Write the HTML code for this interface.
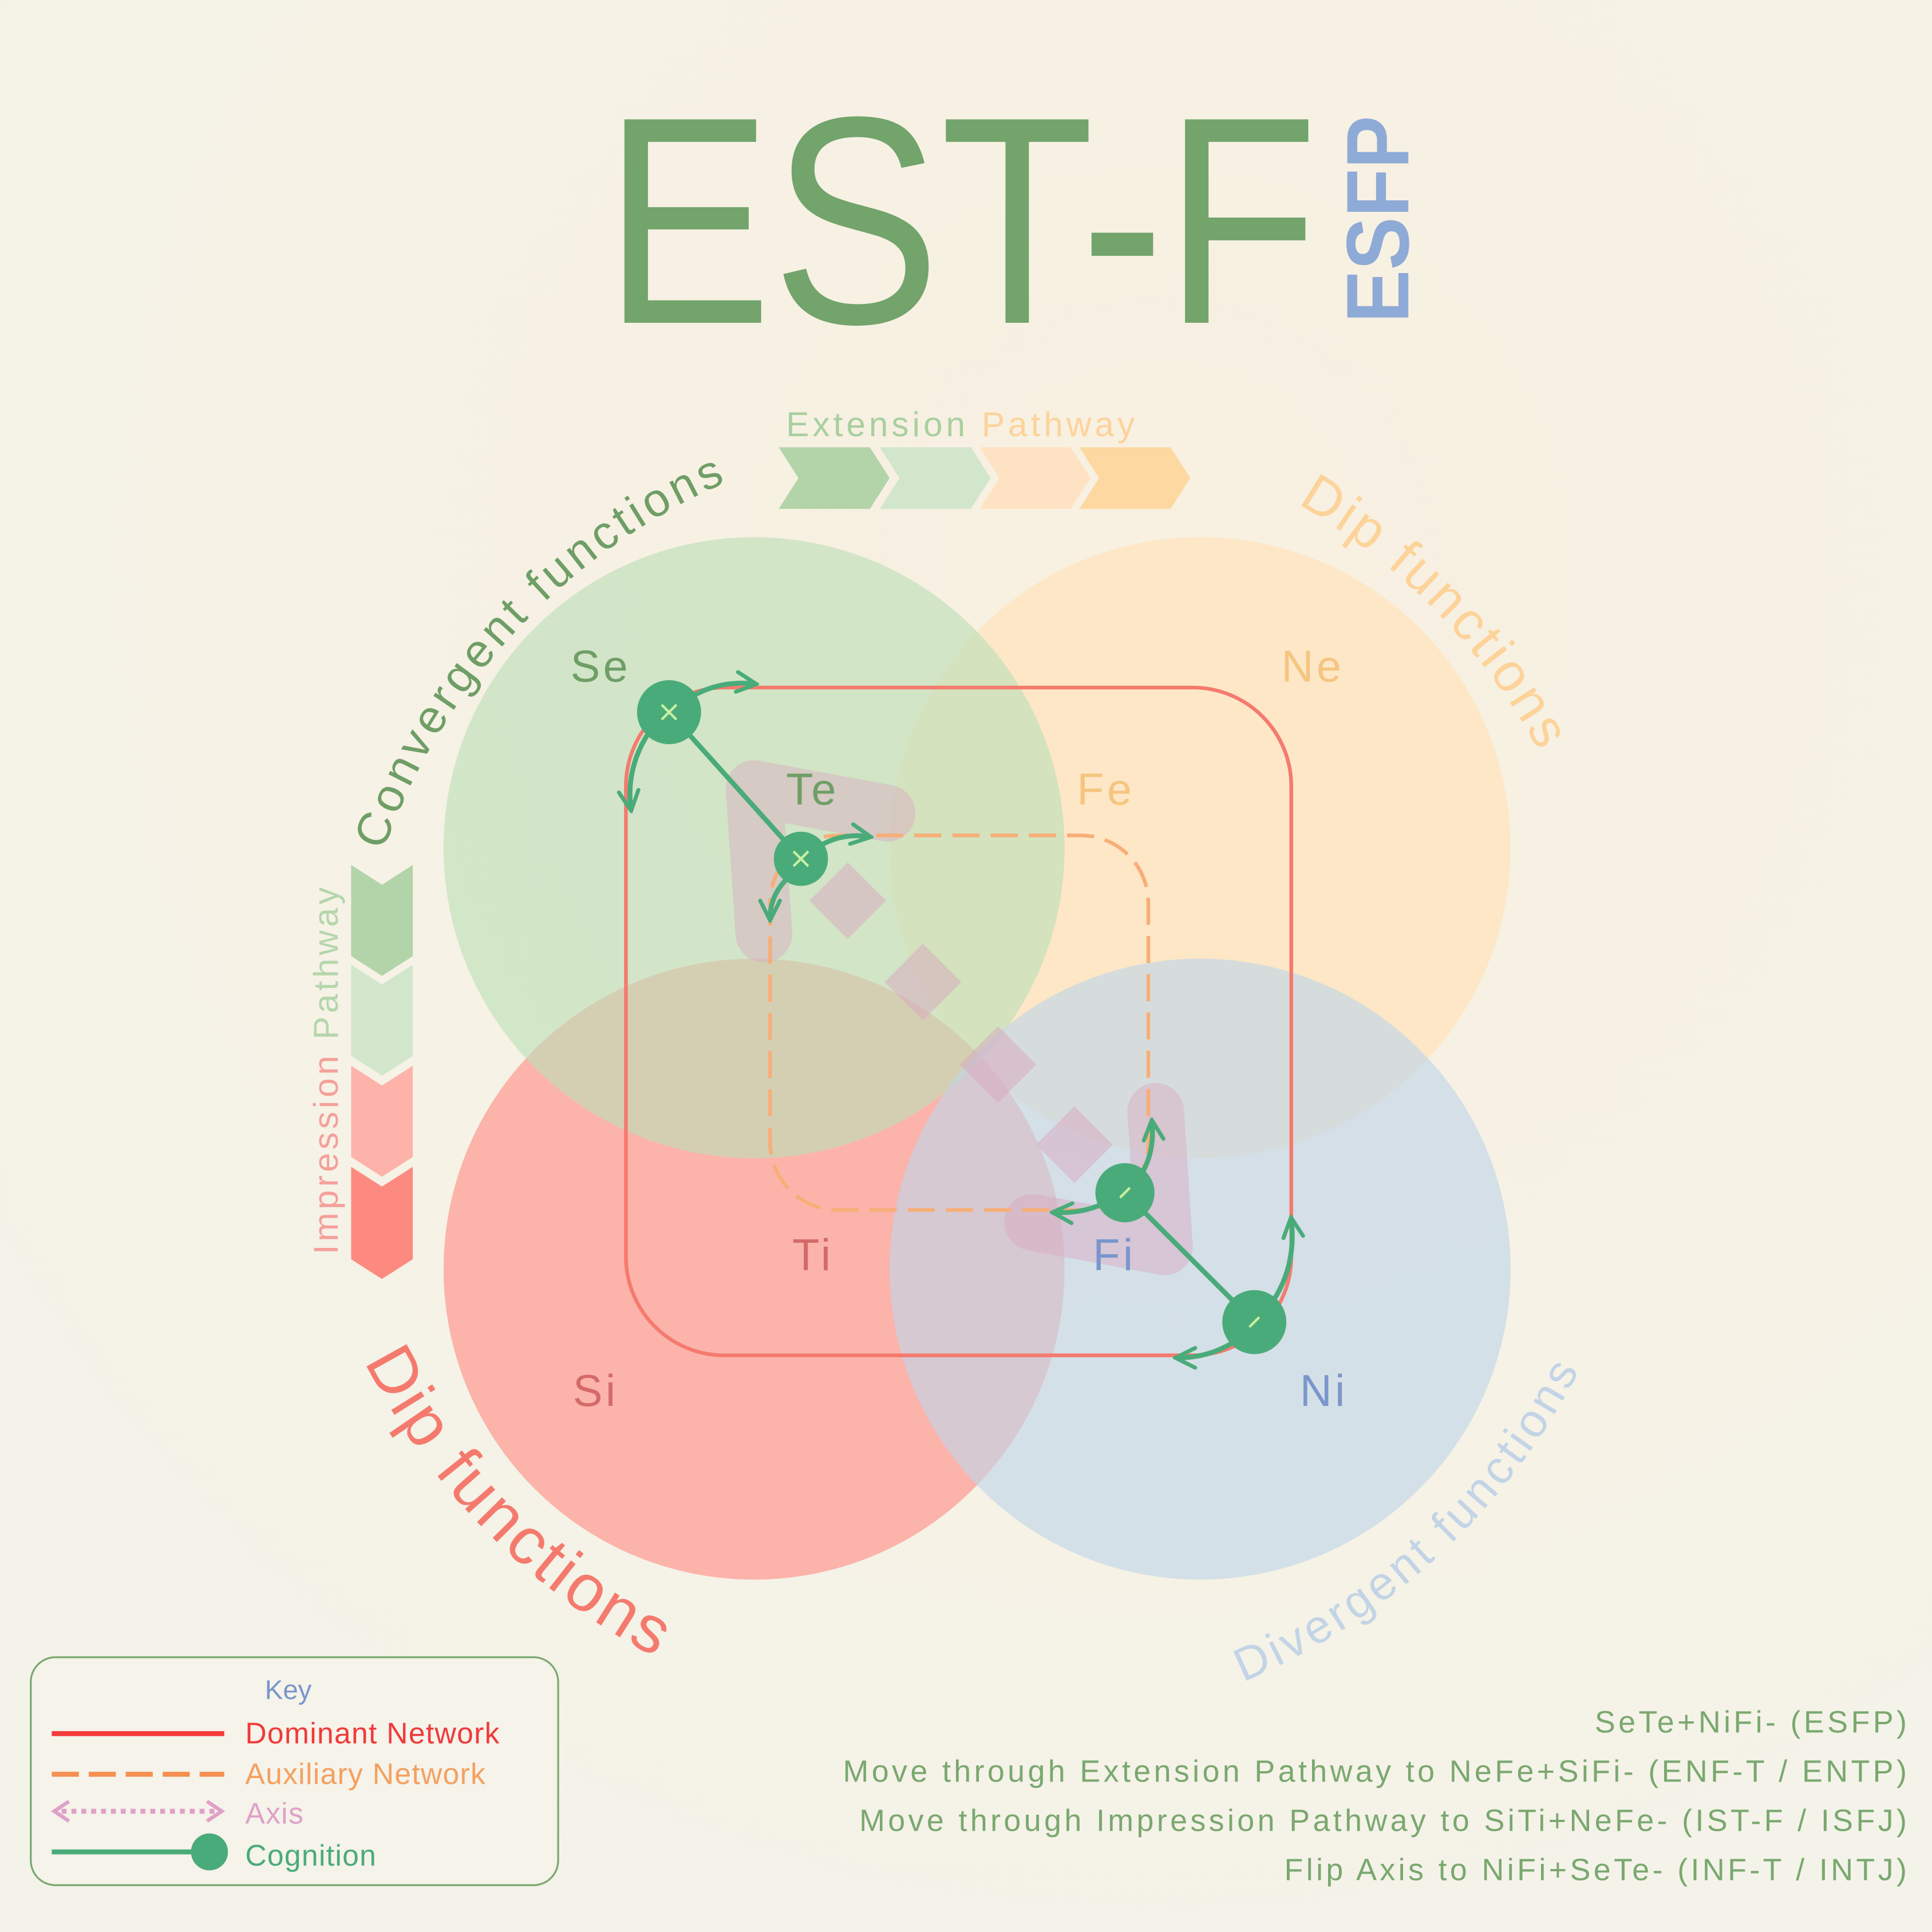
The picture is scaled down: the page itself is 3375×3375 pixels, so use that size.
<!DOCTYPE html>
<html><head><meta charset="utf-8"><style>html,body{margin:0;padding:0;background:#f5f3ea}svg{display:block}</style></head>
<body>
<svg xmlns="http://www.w3.org/2000/svg" width="3375" height="3375" viewBox="0 0 1568 1568" font-family="'Liberation Sans', sans-serif">
<defs>
<marker id="ah" viewBox="0 0 10 10" refX="8" refY="5" markerWidth="5" markerHeight="5" orient="auto" markerUnits="strokeWidth"><path d="M1,1 L9,5 L1,9" fill="none" stroke="#4aab7a" stroke-width="1.6" stroke-linecap="round"/></marker>
<radialGradient id="bg" cx="0.6" cy="0.3" r="0.8"><stop offset="0" stop-color="#f8f0e0"/><stop offset="1" stop-color="#f4f3ea"/></radialGradient>
</defs>
<rect width="1568" height="1568" fill="url(#bg)"/>
<text x="490" y="262" font-size="240" fill="#72a46c" textLength="580" lengthAdjust="spacingAndGlyphs">EST-F</text>
<text transform="translate(1143,262) rotate(-90)" font-size="72" font-weight="bold" fill="#8eaad6" textLength="168" lengthAdjust="spacingAndGlyphs">ESFP</text>
<text x="638" y="354" font-size="28" letter-spacing="2.8"><tspan fill="#a9cf9f">Extension </tspan><tspan fill="#fdd39a">Pathway</tspan></text>
<g>
<polygon points="632,363 706,363 722,388 706,413 632,413 648,388" fill="#b3d4a8"/>
<polygon points="714,363 788,363 804,388 788,413 714,413 730,388" fill="#d2e6cc"/>
<polygon points="795,363 869,363 885,388 869,413 795,413 811,388" fill="#fde3c3"/>
<polygon points="876,363 950,363 966,388 950,413 876,413 892,388" fill="#fdd8a0"/>
</g>
<text transform="translate(274,1018) rotate(-90)" font-size="28" letter-spacing="2.7"><tspan fill="#f5a09a">Impression </tspan><tspan fill="#b5d6ab">Pathway</tspan></text>
<polygon points="285,702 310,718 335,702 335,776 310,792 285,776" fill="#b3d4a8"/>
<polygon points="285,783 310,799 335,783 335,857 310,873 285,857" fill="#d2e6cc"/>
<polygon points="285,865 310,881 335,865 335,939 310,955 285,939" fill="#fdb3aa"/>
<polygon points="285,947 310,963 335,947 335,1022 310,1038 285,1022" fill="#fc8a80"/>
<!-- circles -->
<circle cx="974" cy="688" r="252" fill="#fde7c6"/>
<circle cx="612" cy="1030" r="252" fill="#fcb3aa"/>
<circle cx="612" cy="688" r="252" fill="#bfdeb8" opacity="0.65"/>
<circle cx="974" cy="1030" r="252" fill="#c1d6e8" opacity="0.65"/>
<polyline points="720,660 612,640 620,758" fill="none" stroke="#d9a8c0" stroke-opacity="0.45" stroke-width="46" stroke-linecap="round" stroke-linejoin="round"/>
<polyline points="938,902 945,1012 838,992" fill="none" stroke="#d9a8c0" stroke-opacity="0.45" stroke-width="46" stroke-linecap="round" stroke-linejoin="round"/>
<g fill="#d9a8c0" opacity="0.5">
<rect x="666" y="709" width="44" height="44" transform="rotate(45 688 731)"/>
<rect x="727" y="775" width="44" height="44" transform="rotate(45 749 797)"/>
<rect x="788" y="842" width="44" height="44" transform="rotate(45 810 864)"/>
<rect x="850" y="907" width="44" height="44" transform="rotate(45 872 929)"/>
</g>
<rect x="508" y="558" width="540" height="542" rx="80" fill="none" stroke="#f57a6e" stroke-width="3"/>
<rect x="625" y="678" width="307" height="304" rx="55" fill="none" stroke="#f7ae78" stroke-width="3" stroke-dasharray="22,9"/>
<g font-size="36" letter-spacing="2.5">
<text x="463" y="553" fill="#6f9e66">Se</text>
<text x="1040" y="553" fill="#f5c580">Ne</text>
<text x="638" y="653" fill="#6f9e66">Te</text>
<text x="874" y="653" fill="#f5c580">Fe</text>
<text x="643" y="1031" fill="#d36a6a">Ti</text>
<text x="887" y="1031" fill="#7a96cc">Fi</text>
<text x="465" y="1141" fill="#d36a6a">Si</text>
<text x="1055" y="1141" fill="#7a96cc">Ni</text>
</g>
<g stroke="#4aab7a" stroke-width="4" fill="none" stroke-linecap="round">
<line x1="543" y1="578" x2="650" y2="697"/>
<line x1="913" y1="968" x2="1018" y2="1073"/>
<path d="M562,565 Q585,552 612,555" marker-end="url(#ah)"/>
<path d="M525,597 Q508,625 512,656" marker-end="url(#ah)"/>
<path d="M668,685 Q685,676 705,679" marker-end="url(#ah)"/>
<path d="M637,715 Q625,728 625,745" marker-end="url(#ah)"/>
<path d="M928,950 Q937,933 935,911" marker-end="url(#ah)"/>
<path d="M895,977 Q878,985 856,984" marker-end="url(#ah)"/>
<path d="M1035,1053 Q1052,1025 1048,990" marker-end="url(#ah)"/>
<path d="M1000,1090 Q980,1102 956,1102" marker-end="url(#ah)"/>
</g>
<g fill="#4aab7a">
<circle cx="543" cy="578" r="26"/><circle cx="650" cy="697" r="22"/>
<circle cx="913" cy="968" r="24"/><circle cx="1018" cy="1073" r="26"/>
</g>
<g stroke="#c8f0a0" stroke-width="2">
<path d="M537,572 L549,584 M549,572 L537,584"/>
<path d="M644,691 L656,703 M656,691 L644,703"/>
<path d="M909,972 L917,964"/>
<path d="M1014,1077 L1022,1069"/>
</g>
<path id="p1" d="M300,727 A510,510 0 0 1 704,357" fill="none"/>
<path id="p2" d="M1013,388 A520,520 0 0 1 1305,769" fill="none"/>
<path id="p3" d="M282,1076 A555,555 0 0 0 697,1401" fill="none"/>
<path id="p4" d="M981,1376 A545,545 0 0 0 1310,1047" fill="none"/>
<text font-size="38" fill="#6f9e66" letter-spacing="3.2"><textPath href="#p1" startOffset="38">Convergent  functions</textPath></text>
<text font-size="44" fill="#fdd39a" letter-spacing="2.5"><textPath href="#p2" startOffset="45">Dip functions</textPath></text>
<text font-size="54" fill="#f57a6e" letter-spacing="2.5"><textPath href="#p3" startOffset="32">Dip functions</textPath></text>
<text font-size="38" fill="#c2d4e6" letter-spacing="3"><textPath href="#p4" startOffset="30">Divergent functions</textPath></text>
<rect x="25" y="1345" width="428" height="185" rx="20" fill="#f5f3ea" stroke="#7aa86f" stroke-width="1.5"/>
<text x="215" y="1379" font-size="22" fill="#7a96cc">Key</text>
<line x1="42" y1="1407" x2="182" y2="1407" stroke="#f53a3a" stroke-width="4"/>
<line x1="42" y1="1440" x2="182" y2="1440" stroke="#f59050" stroke-width="4" stroke-dasharray="22,8"/>
<line x1="50" y1="1470" x2="175" y2="1470" stroke="#e0a0c8" stroke-width="4" stroke-dasharray="4,4"/>
<path d="M56,1462 L44,1470 L56,1478 M168,1462 L180,1470 L168,1478" fill="none" stroke="#e0a0c8" stroke-width="3"/>
<line x1="42" y1="1503" x2="160" y2="1503" stroke="#4aab7a" stroke-width="4"/>
<circle cx="170" cy="1503" r="15" fill="#4aab7a"/>
<g font-size="24" letter-spacing="0.6">
<text x="199" y="1415" fill="#f03a3a">Dominant Network</text>
<text x="199" y="1448" fill="#f5a060">Auxiliary Network</text>
<text x="199" y="1480" fill="#e0a0c8">Axis</text>
<text x="199" y="1514" fill="#4aab7a">Cognition</text>
</g>
<g font-size="25" fill="#7aa86f" text-anchor="end" letter-spacing="2.5">
<text x="1550" y="1406">SeTe+NiFi- (ESFP)</text>
<text x="1550" y="1446">Move through Extension Pathway to NeFe+SiFi- (ENF-T / ENTP)</text>
<text x="1550" y="1486">Move through Impression Pathway to SiTi+NeFe- (IST-F / ISFJ)</text>
<text x="1550" y="1526">Flip Axis to NiFi+SeTe- (INF-T / INTJ)</text>
</g>
</svg>
</body></html>
